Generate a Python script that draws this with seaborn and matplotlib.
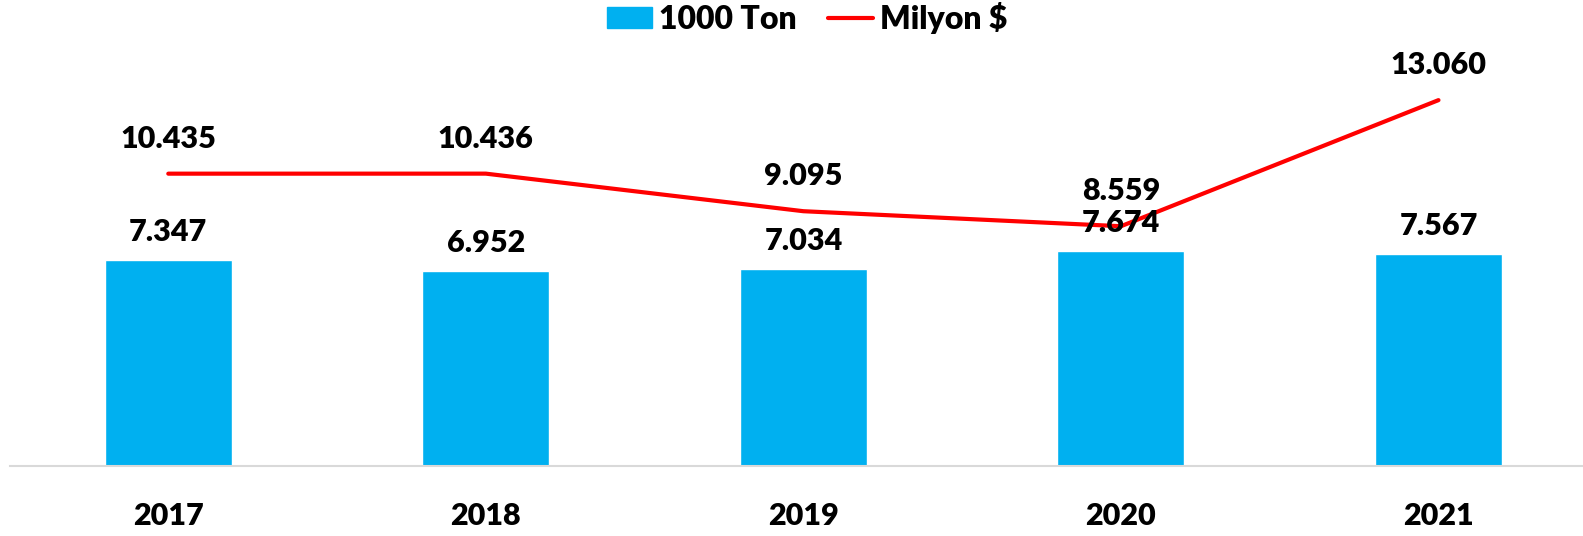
import numpy as np
import pandas as pd
import seaborn as sns
import matplotlib.pyplot as plt
from matplotlib.patches import Patch
from matplotlib.lines import Line2D

years = ["2017", "2018", "2019", "2020", "2021"]
ton = [7347, 6952, 7034, 7674, 7567]
usd = [10435, 10436, 9095, 8559, 13060]
ton_labels = ["7.347", "6.952", "7.034", "7.674", "7.567"]
usd_labels = ["10.435", "10.436", "9.095", "8.559", "13.060"]

sns.set_style("white")
plt.rcParams['font.family'] = ['Lato', 'DejaVu Sans']
plt.rcParams['text.color'] = 'black'
plt.rcParams['xtick.color'] = 'black'
W = "heavy"

df = pd.DataFrame({"Yil": years, "1000 Ton": ton, "Milyon $": usd})

fig = plt.figure(figsize=(15.83, 5.36), dpi=100)
ax = fig.add_axes([9.5 / 1583, 70 / 536, 1573.5 / 1583, 392.2 / 536])

sns.barplot(data=df, x="Yil", y="1000 Ton", color="#00B0F0", width=0.4,
            saturation=1, ax=ax)
sns.lineplot(x=np.arange(len(years)), y=df["Milyon $"], color="#FF0000",
             linewidth=3, ax=ax, solid_capstyle="round")

ax.set_ylim(0, 14000)
ax.set_xlim(-0.5, -0.5 + 1573.5 / 317.55)

ax.bar_label(ax.containers[0], labels=ton_labels, padding=10,
             fontsize=22, fontweight=W, color="black")
for i, lab in enumerate(usd_labels):
    ax.annotate(lab, (i, usd[i]), xytext=(0, 15), textcoords="offset points",
                ha="center", va="bottom", fontsize=22, fontweight=W, color="black")

for s in ["top", "right", "left"]:
    ax.spines[s].set_visible(False)
ax.spines["bottom"].set_color("#D9D9D9")
ax.spines["bottom"].set_linewidth(1.5)
ax.set_yticks([])
ax.set_xlabel("")
ax.set_ylabel("")
ax.set_xticks(range(len(years)))
ax.set_xticklabels(years, fontweight=W, fontsize=22, color="black")
ax.tick_params(axis="x", length=0, pad=26)

handles = [Patch(color="#00B0F0", label="1000 Ton"),
           Line2D([0], [0], color="#FF0000", linewidth=3, label="Milyon $",
                  solid_capstyle="round")]
fig.legend(handles=handles, loc="center", bbox_to_anchor=(807 / 1583, 1 - 18 / 536),
           ncol=2, frameon=False, prop={"size": 23, "weight": W},
           labelcolor="black", handlelength=1.41, handleheight=0.63,
           handletextpad=0.2, columnspacing=1.0)

fig.savefig("out.png", dpi=100)
